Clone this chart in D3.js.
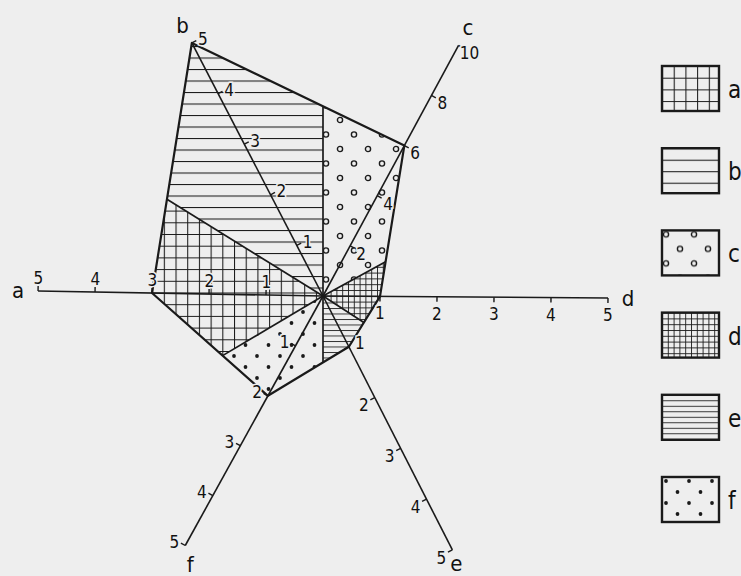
<!DOCTYPE html>
<html>
<head>
<meta charset="utf-8">
<script src="https://cdn.jsdelivr.net/npm/d3@7"></script>
<style>
  body { margin: 0; background: #eeeeee; }
  svg text { font-family: 'DejaVu Sans Condensed', 'Liberation Sans Narrow', 'DejaVu Sans', sans-serif; fill: #111; }
</style>
</head>
<body>
<div id="chart"></div>
<script>
// indicator names, values and axis tick values
var categories = ["a", "b", "c", "d", "e", "f"];
var values = [3, 5, 6, 1, 1, 2];
var axisMax = [5, 5, 10, 5, 5, 5];
var axisTicks = [
  [1, 2, 3, 4, 5],
  [1, 2, 3, 4, 5],
  [2, 4, 6, 8, 10],
  [1, 2, 3, 4, 5],
  [1, 2, 3, 4, 5],
  [1, 2, 3, 4, 5]
];
// direction of each axis (degrees, counter-clockwise from "d")
var axisAngle = [179, 117.4, 61.6, -0.4, -63, -118.9];
// each pattern's sector, from / to angle
var sectorFrom = [148.2, 90, 28.7, -33, -90, 210.7];
var sectorTo   = [210.7, 148.2, 90, 28.7, -33, 270];

var width = 741, height = 576;
var cx = 323, cy = 296, R = 285;
var rad = Math.PI / 180;

var svg = d3.select("#chart").append("svg")
  .attr("width", width)
  .attr("height", height);

svg.append("rect").attr("width", width).attr("height", height).attr("fill", "#eeeeee");

// fill patterns
var defs = svg.append("defs");
function pat(id, w, h) {
  return defs.append("pattern").attr("id", id)
    .attr("patternUnits", "userSpaceOnUse")
    .attr("width", w).attr("height", h);
}
var ink = "#1a1a1a";
var p = pat("pa", 11.7, 11.7);
p.append("path").attr("d", "M0.5,0V11.7M0,0.5H11.7").attr("stroke", ink).attr("stroke-width", 1.1);
p = pat("pb", 20, 11.5);
p.append("path").attr("d", "M0,0.5H20").attr("stroke", ink).attr("stroke-width", 1.1);
p = pat("pc", 28, 29);
p.append("circle").attr("cx", 4).attr("cy", 4).attr("r", 2.6).attr("fill", "none").attr("stroke", ink).attr("stroke-width", 1.4);
p.append("circle").attr("cx", 18).attr("cy", 18.5).attr("r", 2.6).attr("fill", "none").attr("stroke", ink).attr("stroke-width", 1.4);
p = pat("pd", 5.8, 5.8);
p.append("path").attr("d", "M0.5,0V5.8M0,0.5H5.8").attr("stroke", ink).attr("stroke-width", 0.9);
p = pat("pe", 20, 5.5);
p.append("path").attr("d", "M0,0.5H20").attr("stroke", ink).attr("stroke-width", 0.9);
p = pat("pf", 23, 22);
p.append("circle").attr("cx", 4).attr("cy", 4).attr("r", 1.9).attr("fill", ink);
p.append("circle").attr("cx", 15.5).attr("cy", 15).attr("r", 1.9).attr("fill", ink);
var patIds = ["pa", "pb", "pc", "pd", "pe", "pf"];

// scales
var scales = axisMax.map(function(m) {
  return d3.scaleLinear().domain([0, m]).range([0, R]);
});
function dir(a) { return [Math.cos(a * rad), -Math.sin(a * rad)]; }
function pt(i, v) {
  var u = dir(axisAngle[i]), r = scales[i](v);
  return [cx + u[0] * r, cy + u[1] * r];
}

// radar polygon vertices
var verts = categories.map(function(c, i) { return pt(i, values[i]); });

// where a ray from the centre meets the polygon outline
function rayHit(a) {
  var u = dir(a);
  for (var i = 0; i < verts.length; i++) {
    var P = verts[i], Q = verts[(i + 1) % verts.length];
    var ex = Q[0] - P[0], ey = Q[1] - P[1];
    var den = u[0] * ey - u[1] * ex;
    if (Math.abs(den) < 1e-9) continue;
    var wx = P[0] - cx, wy = P[1] - cy;
    var t = (wx * ey - wy * ex) / den;
    var s = (wx * u[1] - wy * u[0]) / den;
    if (t > 0 && s >= -1e-6 && s <= 1 + 1e-6) return [cx + u[0] * t, cy + u[1] * t];
  }
  return [cx, cy];
}

function sectorPoints(k) {
  var lo = sectorFrom[k], hi = sectorTo[k];
  var pts = [[cx, cy], rayHit(lo)];
  var inside = [];
  axisAngle.forEach(function(a, i) {
    var n = lo + ((((a - lo) % 360) + 360) % 360);
    if (n < hi) inside.push({ a: n, p: verts[i] });
  });
  inside.sort(function(x, y) { return x.a - y.a; });
  inside.forEach(function(d) { pts.push(d.p); });
  pts.push(rayHit(hi));
  return pts;
}

var line = d3.line();

svg.append("g").selectAll("path")
  .data(categories)
  .join("path")
  .attr("d", function(d, k) { return line(sectorPoints(k)) + "Z"; })
  .attr("fill", function(d, k) { return "url(#" + patIds[k] + ")"; })
  .attr("stroke", "none");

// sector borders
svg.append("g").selectAll("line")
  .data(sectorFrom)
  .join("line")
  .attr("x1", cx).attr("y1", cy)
  .attr("x2", function(a) { return rayHit(a)[0]; })
  .attr("y2", function(a) { return rayHit(a)[1]; })
  .attr("stroke", ink).attr("stroke-width", 1.7);

// outline
svg.append("path")
  .attr("d", line(verts) + "Z")
  .attr("fill", "none")
  .attr("stroke", ink)
  .attr("stroke-width", 2.2)
  .attr("stroke-linejoin", "round");

// axes
var axes = svg.append("g");
categories.forEach(function(c, i) {
  var a = axisAngle[i], u = dir(a);
  var n = [Math.sin(a * rad), Math.cos(a * rad)];
  var tip = pt(i, axisMax[i]);
  axes.append("line")
    .attr("x1", cx).attr("y1", cy).attr("x2", tip[0]).attr("y2", tip[1])
    .attr("stroke", ink).attr("stroke-width", 1.6);
  axisTicks[i].forEach(function(v) {
    var q = pt(i, v);
    axes.append("line")
      .attr("x1", q[0]).attr("y1", q[1])
      .attr("x2", q[0] + n[0] * 5).attr("y2", q[1] + n[1] * 5)
      .attr("stroke", ink).attr("stroke-width", 1.4);
    var side = (c === "e" && v === 1) ? -1 : 1;
    var off = 10 + 5 * Math.abs(n[1]);
    axes.append("text")
      .attr("x", q[0] + side * n[0] * off)
      .attr("y", q[1] + side * n[1] * off + 2)
      .attr("text-anchor", "middle")
      .attr("dominant-baseline", "central")
      .attr("font-size", 17)
      .attr("stroke", "#eeeeee").attr("stroke-width", 3).attr("paint-order", "stroke")
      .text(v);
  });
  // axis name just past the end of the axis
  var nx = tip[0] + u[0] * 20, ny = tip[1] + u[1] * 20;
  if (c === "f") { nx = tip[0] + 5; ny = tip[1] + 19; }
  if (c === "e") { nx = tip[0] + 4; ny = tip[1] + 14; }
  axes.append("text")
    .attr("x", nx).attr("y", ny)
    .attr("text-anchor", "middle")
    .attr("dominant-baseline", "central")
    .attr("font-size", 22)
    .text(c);
});

// legend
var legend = svg.append("g").selectAll("g")
  .data(categories)
  .join("g")
  .attr("transform", function(d, k) { return "translate(662," + (66 + k * 82.2) + ")"; });
legend.append("rect")
  .attr("width", 57).attr("height", 45)
  .attr("fill", function(d, k) { return "url(#" + patIds[k] + ")"; })
  .attr("stroke", ink).attr("stroke-width", 2.4);
legend.append("text")
  .attr("x", 66).attr("y", 24)
  .attr("dominant-baseline", "central")
  .attr("font-size", 24)
  .text(function(d) { return d; });
</script>
</body>
</html>
